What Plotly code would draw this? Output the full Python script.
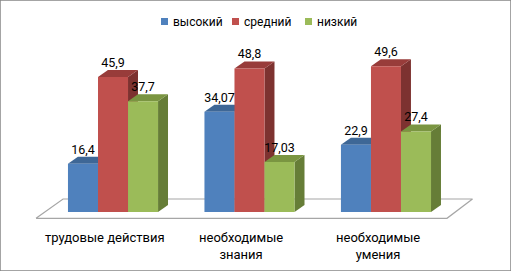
import plotly.graph_objects as go

categories = ["трудовые действия", "необходимые<br>знания", "необходимые<br>умения"]
series_names = ["высокий", "средний", "низкий"]
vysokiy = [16.4, 34.07, 22.9]
sredniy = [45.9, 48.8, 49.6]
nizkiy = [37.7, 17.03, 27.4]

values = [vysokiy, sredniy, nizkiy]
front_cols = ["#4F81BD", "#C0504D", "#9BBB59"]
top_cols = ["#3E6796", "#983C3A", "#7A9541"]
side_cols = ["#375C88", "#7D3230", "#667D37"]

BAR_W = 0.22
DX = 0.073   # depth shift in x units
DY = 2.38    # depth shift in y units
XR = [-0.828, 2.916]
YR = [-20.07, 72.1]
FONT = "Roboto, 'Open Sans', sans-serif"
W, H = 511, 271

fig = go.Figure()

# floor
fig.add_trace(go.Scatter(
    x=[-0.564, 2.447, 2.634, -0.366, -0.564],
    y=[-2.14, -2.14, 4.42, 4.42, -2.14],
    mode="lines", fill="toself", fillcolor="white",
    line=dict(color="#A6A6A6", width=1.2), hoverinfo="skip", showlegend=False))

# side and top faces (painter's order)
for ci in range(len(categories)):
    for si in range(3):
        v = values[si][ci]
        xl = ci - 0.33 + si * BAR_W
        xr = xl + BAR_W
        fig.add_trace(go.Scatter(
            x=[xr, xr + DX, xr + DX, xr, xr], y=[0, DY, v + DY, v, 0],
            mode="lines", fill="toself", fillcolor=side_cols[si],
            line=dict(width=0), hoverinfo="skip", showlegend=False))
        fig.add_trace(go.Scatter(
            x=[xl, xl + DX, xr + DX, xr, xl], y=[v, v + DY, v + DY, v, v],
            mode="lines", fill="toself", fillcolor=top_cols[si],
            line=dict(width=0), hoverinfo="skip", showlegend=False))

# front faces as bars on overlay axes
for si in range(3):
    fig.add_trace(go.Bar(
        x=list(range(len(categories))), y=values[si], name=series_names[si],
        marker=dict(color=front_cols[si], line=dict(width=0)),
        xaxis="x2", yaxis="y2", showlegend=False))

# data labels
for si in range(3):
    fig.add_trace(go.Scatter(
        x=[ci - 0.33 + si * BAR_W + BAR_W / 2 for ci in range(len(categories))],
        y=[v + DY for v in values[si]],
        mode="text",
        text=[f"{v:g}".replace(".", ",") for v in values[si]],
        textposition="top center",
        textfont=dict(family=FONT, size=12.5, color="#000000"),
        xaxis="x2", yaxis="y2", hoverinfo="skip", showlegend=False))

for ci, cat in enumerate(categories):
    fig.add_annotation(x=ci - 0.06, y=-5.4, xref="x", yref="y", text=cat,
                       showarrow=False, yanchor="top",
                       font=dict(family=FONT, size=13, color="#000000"))

# manual legend (Excel style small squares)
shapes = [dict(type="rect", xref="paper", yref="paper", x0=0, y0=0, x1=1, y1=1,
               line=dict(color="#868686", width=1.5))]
leg_sq_x = [161, 232, 305]
for si, name in enumerate(series_names):
    x0 = leg_sq_x[si]
    shapes.append(dict(type="rect", xref="paper", yref="paper",
                       x0=x0 / W, x1=(x0 + 7) / W, y0=1 - 25 / H, y1=1 - 18 / H,
                       fillcolor=front_cols[si], line=dict(width=0)))
    fig.add_annotation(x=(x0 + 10) / W, y=1 - 21.5 / H, xref="paper", yref="paper",
                       text=name, showarrow=False, xanchor="left", yanchor="middle",
                       font=dict(family=FONT, size=12, color="#000000"))

ax = dict(range=XR, visible=False, fixedrange=True)
ay = dict(range=YR, visible=False, fixedrange=True)
fig.update_layout(
    width=W, height=H,
    margin=dict(l=0, r=0, t=0, b=0),
    paper_bgcolor="white", plot_bgcolor="rgba(0,0,0,0)",
    xaxis=dict(**ax, domain=[0, 1]),
    yaxis=dict(**ay, domain=[0, 1]),
    xaxis2=dict(**ax, overlaying="x"),
    yaxis2=dict(**ay, overlaying="y"),
    barmode="group", bargap=0.34, bargroupgap=0,
    shapes=shapes,
    showlegend=False,
    hovermode=False,
)

fig.write_html("out.html", config={"displayModeBar": False},
               post_script="document.body.style.margin='0';document.body.style.padding='0';")
